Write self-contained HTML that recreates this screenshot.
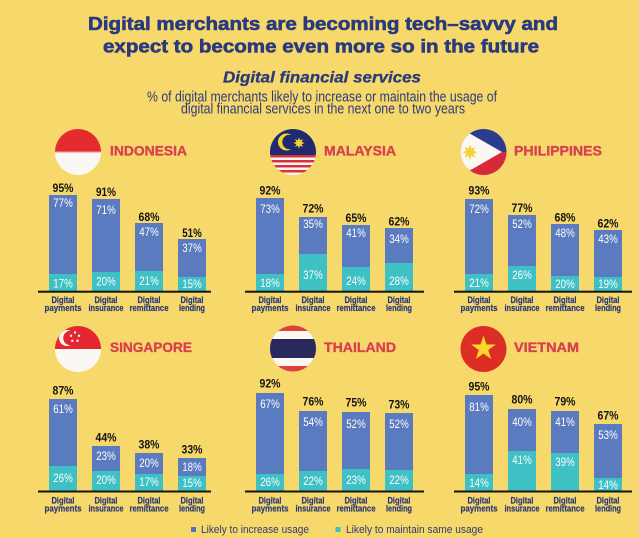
<!DOCTYPE html>
<html>
<head>
<meta charset="utf-8">
<style>
html,body{margin:0;padding:0;background:#F7D86A;}
svg{display:block;}
svg text{font-family:"Liberation Sans", sans-serif;}
.ttl{font-weight:bold;font-size:18.5px;fill:#2A3A7E;stroke:#2A3A7E;stroke-width:0.6px;}
.sub{font-weight:bold;font-style:italic;font-size:15.5px;fill:#2A3A7E;stroke:#2A3A7E;stroke-width:0.3px;}
.desc{font-size:14.5px;fill:#2D3B7C;}
.cn{font-weight:bold;font-size:14px;fill:#D9404F;stroke:#D9404F;stroke-width:0.35px;}
.tt{font-weight:bold;font-size:12px;fill:#141414;text-anchor:middle;}
.w{font-size:11.5px;fill:#FFFFFF;text-anchor:middle;}
.c{font-weight:bold;font-size:9px;fill:#2B3A7A;text-anchor:middle;stroke:#2B3A7A;stroke-width:0.2px;}
.lg{font-size:11px;fill:#2D3B7C;}
.b{fill:#5A7BBF;}
.g{fill:#3EC0C5;}
.ax{fill:#151515;}
</style>
</head>
<body>
<svg width="639" height="538" viewBox="0 0 639 538" xmlns="http://www.w3.org/2000/svg">
<rect x="0" y="0" width="639" height="538" fill="#F7D86A"/>

<!-- Titles -->
<text class="ttl" x="88" y="30" textLength="470" lengthAdjust="spacingAndGlyphs">Digital merchants are becoming tech–savvy and</text>
<text class="ttl" x="103" y="52.3" textLength="436" lengthAdjust="spacingAndGlyphs">expect to become even more so in the future</text>
<text class="sub" x="223" y="82.3" textLength="198" lengthAdjust="spacingAndGlyphs">Digital financial services</text>
<text class="desc" x="147" y="101.7" textLength="350" lengthAdjust="spacingAndGlyphs">% of digital merchants likely to increase or maintain the usage of</text>
<text class="desc" x="181" y="113.5" textLength="284" lengthAdjust="spacingAndGlyphs">digital financial services in the next one to two years</text>

<defs>
<clipPath id="fA"><circle cx="78" cy="152" r="23"/></clipPath>
<clipPath id="fB"><circle cx="293" cy="152" r="23"/></clipPath>
<clipPath id="fC"><circle cx="483.5" cy="152" r="23"/></clipPath>
<clipPath id="fD"><circle cx="78" cy="349" r="23"/></clipPath>
<clipPath id="fE"><circle cx="293" cy="348.5" r="23"/></clipPath>
</defs>

<!-- Indonesia flag -->
<g clip-path="url(#fA)">
<rect x="55" y="129" width="46" height="23" fill="#E42B2E"/>
<rect x="55" y="152" width="46" height="23" fill="#FBF8F3"/>
<rect x="55" y="151.5" width="46" height="1.2" fill="#F2A7A2"/>
</g>
<!-- Malaysia flag -->
<g clip-path="url(#fB)">
<rect x="270" y="129" width="46" height="26" fill="#1F2B6E"/>
<rect x="270" y="155" width="46" height="2.5" fill="#D8313B"/>
<rect x="270" y="157.5" width="46" height="2.5" fill="#FBF8F3"/>
<rect x="270" y="160" width="46" height="2.5" fill="#D8313B"/>
<rect x="270" y="162.5" width="46" height="2.5" fill="#FBF8F3"/>
<rect x="270" y="165" width="46" height="2.5" fill="#D8313B"/>
<rect x="270" y="167.5" width="46" height="2.5" fill="#FBF8F3"/>
<rect x="270" y="170" width="46" height="2.5" fill="#D8313B"/>
<rect x="270" y="172.5" width="46" height="2.5" fill="#FBF8F3"/>
<circle cx="286.5" cy="142" r="8.5" fill="#F6D22E"/>
<circle cx="289.5" cy="142" r="7.2" fill="#1F2B6E"/>
<polygon transform="translate(299,143) scale(0.95)" fill="#F6D22E" points="6,0 2.77,1.15 4.24,4.24 1.15,2.77 0,6 -1.15,2.77 -4.24,4.24 -2.77,1.15 -6,0 -2.77,-1.15 -4.24,-4.24 -1.15,-2.77 0,-6 1.15,-2.77 4.24,-4.24 2.77,-1.15"/>
</g>
<!-- Philippines flag -->
<g clip-path="url(#fC)">
<rect x="460" y="129" width="47" height="23" fill="#2B3D8F"/>
<rect x="460" y="152" width="47" height="23" fill="#D8283B"/>
<polygon points="455,125 502,152 455,179" fill="#FBF8F3"/>
<polygon transform="translate(470,152.3) scale(1.3)" fill="#F4D23A" points="6,0 2.77,1.15 4.24,4.24 1.15,2.77 0,6 -1.15,2.77 -4.24,4.24 -2.77,1.15 -6,0 -2.77,-1.15 -4.24,-4.24 -1.15,-2.77 0,-6 1.15,-2.77 4.24,-4.24 2.77,-1.15"/>
</g>
<!-- Singapore flag -->
<g clip-path="url(#fD)">
<rect x="55" y="326" width="46" height="23" fill="#E3262F"/>
<rect x="55" y="349" width="46" height="23" fill="#FBF8F3"/>
<circle cx="67" cy="338" r="8" fill="#FBF8F3"/>
<circle cx="70.5" cy="338" r="7.3" fill="#E3262F"/>
<circle cx="75" cy="332.5" r="1.2" fill="#FBF8F3"/>
<circle cx="79" cy="335.8" r="1.2" fill="#FBF8F3"/>
<circle cx="77.5" cy="340.8" r="1.2" fill="#FBF8F3"/>
<circle cx="72.3" cy="340.8" r="1.2" fill="#FBF8F3"/>
<circle cx="71" cy="335.8" r="1.2" fill="#FBF8F3"/>
</g>
<!-- Thailand flag -->
<g clip-path="url(#fE)">
<rect x="270" y="325" width="46" height="47" fill="#E0403A"/>
<rect x="270" y="331" width="46" height="35" fill="#FBF8F3"/>
<rect x="270" y="339" width="46" height="19" fill="#2A295C"/>
</g>
<!-- Vietnam flag -->
<circle cx="483.5" cy="349" r="23" fill="#DD2E26"/>
<polygon fill="#F8D92A" points="483.5,335.5 486.44,344.46 495.86,344.48 488.26,350.05 491.14,359.02 483.5,353.5 475.86,359.02 478.74,350.05 471.14,344.48 480.56,344.46"/>

<!-- Country names -->
<text class="cn" x="110" y="155.5" textLength="77" lengthAdjust="spacingAndGlyphs">INDONESIA</text>
<text class="cn" x="324" y="155.5" textLength="72" lengthAdjust="spacingAndGlyphs">MALAYSIA</text>
<text class="cn" x="514" y="155.5" textLength="88" lengthAdjust="spacingAndGlyphs">PHILIPPINES</text>
<text class="cn" x="110" y="352" textLength="82" lengthAdjust="spacingAndGlyphs">SINGAPORE</text>
<text class="cn" x="324" y="352" textLength="72" lengthAdjust="spacingAndGlyphs">THAILAND</text>
<text class="cn" x="514" y="352" textLength="65" lengthAdjust="spacingAndGlyphs">VIETNAM</text>

<!-- ===== Indonesia ===== -->
<rect class="b" x="49" y="195" width="28" height="79"/><rect class="g" x="49" y="274" width="28" height="17"/>
<rect class="b" x="92" y="199" width="28" height="73"/><rect class="g" x="92" y="272" width="28" height="19"/>
<rect class="b" x="135" y="223" width="28" height="48"/><rect class="g" x="135" y="271" width="28" height="20"/>
<rect class="b" x="178" y="239" width="28" height="38"/><rect class="g" x="178" y="277" width="28" height="14"/>
<text class="tt" x="63" y="192" textLength="21" lengthAdjust="spacingAndGlyphs">95%</text>
<text class="w" x="63" y="206.8" textLength="19.5" lengthAdjust="spacingAndGlyphs">77%</text>
<text class="w" x="63" y="287.4" textLength="19.5" lengthAdjust="spacingAndGlyphs">17%</text>
<text class="tt" x="106" y="196" textLength="20" lengthAdjust="spacingAndGlyphs">91%</text>
<text class="w" x="106" y="214.1" textLength="19.5" lengthAdjust="spacingAndGlyphs">71%</text>
<text class="w" x="106" y="285.4" textLength="19.5" lengthAdjust="spacingAndGlyphs">20%</text>
<text class="tt" x="149" y="221" textLength="21" lengthAdjust="spacingAndGlyphs">68%</text>
<text class="w" x="149" y="235.8" textLength="19.5" lengthAdjust="spacingAndGlyphs">47%</text>
<text class="w" x="149" y="285.1" textLength="19.5" lengthAdjust="spacingAndGlyphs">21%</text>
<text class="tt" x="192" y="237" textLength="19.5" lengthAdjust="spacingAndGlyphs">51%</text>
<text class="w" x="192" y="251.8" textLength="19.5" lengthAdjust="spacingAndGlyphs">37%</text>
<text class="w" x="192" y="288.1" textLength="19.5" lengthAdjust="spacingAndGlyphs">15%</text>
<rect class="ax" x="38" y="290.7" width="173" height="2"/>

<!-- ===== Malaysia ===== -->
<rect class="b" x="256" y="198" width="28" height="76"/><rect class="g" x="256" y="274" width="28" height="17"/>
<rect class="b" x="299" y="217" width="28" height="37"/><rect class="g" x="299" y="254" width="28" height="37"/>
<rect class="b" x="342" y="225" width="28" height="42"/><rect class="g" x="342" y="267" width="28" height="24"/>
<rect class="b" x="385" y="228" width="28" height="35"/><rect class="g" x="385" y="263" width="28" height="28"/>
<text class="tt" x="270" y="194.6" textLength="21" lengthAdjust="spacingAndGlyphs">92%</text>
<text class="w" x="270" y="213.1" textLength="19.5" lengthAdjust="spacingAndGlyphs">73%</text>
<text class="w" x="270" y="287.1" textLength="19.5" lengthAdjust="spacingAndGlyphs">18%</text>
<text class="tt" x="313" y="212.6" textLength="21" lengthAdjust="spacingAndGlyphs">72%</text>
<text class="w" x="313" y="227.8" textLength="19.5" lengthAdjust="spacingAndGlyphs">35%</text>
<text class="w" x="313" y="279.1" textLength="19.5" lengthAdjust="spacingAndGlyphs">37%</text>
<text class="tt" x="356" y="222" textLength="21" lengthAdjust="spacingAndGlyphs">65%</text>
<text class="w" x="356" y="237.1" textLength="19.5" lengthAdjust="spacingAndGlyphs">41%</text>
<text class="w" x="356" y="284.8" textLength="19.5" lengthAdjust="spacingAndGlyphs">24%</text>
<text class="tt" x="399" y="225.3" textLength="21" lengthAdjust="spacingAndGlyphs">62%</text>
<text class="w" x="399" y="243.1" textLength="19.5" lengthAdjust="spacingAndGlyphs">34%</text>
<text class="w" x="399" y="285.1" textLength="19.5" lengthAdjust="spacingAndGlyphs">28%</text>
<rect class="ax" x="245" y="290.7" width="179" height="2"/>

<!-- ===== Philippines ===== -->
<rect class="b" x="465" y="199" width="28" height="75"/><rect class="g" x="465" y="274" width="28" height="17"/>
<rect class="b" x="508" y="215" width="28" height="51"/><rect class="g" x="508" y="266" width="28" height="25"/>
<rect class="b" x="551" y="224" width="28" height="52"/><rect class="g" x="551" y="276" width="28" height="15"/>
<rect class="b" x="594" y="230" width="28" height="47"/><rect class="g" x="594" y="277" width="28" height="14"/>
<text class="tt" x="479" y="194.3" textLength="21" lengthAdjust="spacingAndGlyphs">93%</text>
<text class="w" x="479" y="213.1" textLength="19.5" lengthAdjust="spacingAndGlyphs">72%</text>
<text class="w" x="479" y="287.1" textLength="19.5" lengthAdjust="spacingAndGlyphs">21%</text>
<text class="tt" x="522" y="212" textLength="21" lengthAdjust="spacingAndGlyphs">77%</text>
<text class="w" x="522" y="227.8" textLength="19.5" lengthAdjust="spacingAndGlyphs">52%</text>
<text class="w" x="522" y="279.1" textLength="19.5" lengthAdjust="spacingAndGlyphs">26%</text>
<text class="tt" x="565" y="221.6" textLength="21" lengthAdjust="spacingAndGlyphs">68%</text>
<text class="w" x="565" y="237.1" textLength="19.5" lengthAdjust="spacingAndGlyphs">48%</text>
<text class="w" x="565" y="288.1" textLength="19.5" lengthAdjust="spacingAndGlyphs">20%</text>
<text class="tt" x="608" y="227.6" textLength="21" lengthAdjust="spacingAndGlyphs">62%</text>
<text class="w" x="608" y="243.1" textLength="19.5" lengthAdjust="spacingAndGlyphs">43%</text>
<text class="w" x="608" y="288.1" textLength="19.5" lengthAdjust="spacingAndGlyphs">19%</text>
<rect class="ax" x="454" y="290.7" width="178" height="2"/>

<!-- ===== Singapore ===== -->
<rect class="b" x="49" y="399" width="28" height="67"/><rect class="g" x="49" y="466" width="28" height="25"/>
<rect class="b" x="92" y="446" width="28" height="25"/><rect class="g" x="92" y="471" width="28" height="20"/>
<rect class="b" x="135" y="453" width="28" height="21"/><rect class="g" x="135" y="474" width="28" height="17"/>
<rect class="b" x="178" y="458" width="28" height="18"/><rect class="g" x="178" y="476" width="28" height="15"/>
<text class="tt" x="63" y="394.6" textLength="21" lengthAdjust="spacingAndGlyphs">87%</text>
<text class="w" x="63" y="413.1" textLength="19.5" lengthAdjust="spacingAndGlyphs">61%</text>
<text class="w" x="63" y="482.1" textLength="19.5" lengthAdjust="spacingAndGlyphs">26%</text>
<text class="tt" x="106" y="441.6" textLength="21" lengthAdjust="spacingAndGlyphs">44%</text>
<text class="w" x="106" y="459.8" textLength="19.5" lengthAdjust="spacingAndGlyphs">23%</text>
<text class="w" x="106" y="484.1" textLength="19.5" lengthAdjust="spacingAndGlyphs">20%</text>
<text class="tt" x="149" y="448.6" textLength="21" lengthAdjust="spacingAndGlyphs">38%</text>
<text class="w" x="149" y="466.8" textLength="19.5" lengthAdjust="spacingAndGlyphs">20%</text>
<text class="w" x="149" y="485.8" textLength="19.5" lengthAdjust="spacingAndGlyphs">17%</text>
<text class="tt" x="192" y="453.3" textLength="21" lengthAdjust="spacingAndGlyphs">33%</text>
<text class="w" x="192" y="471.1" textLength="19.5" lengthAdjust="spacingAndGlyphs">18%</text>
<text class="w" x="192" y="487.1" textLength="19.5" lengthAdjust="spacingAndGlyphs">15%</text>
<rect class="ax" x="38" y="490.5" width="173" height="2"/>

<!-- ===== Thailand ===== -->
<rect class="b" x="256" y="393" width="28" height="81"/><rect class="g" x="256" y="474" width="28" height="17"/>
<rect class="b" x="299" y="411" width="28" height="60"/><rect class="g" x="299" y="471" width="28" height="20"/>
<rect class="b" x="342" y="412" width="28" height="57"/><rect class="g" x="342" y="469" width="28" height="22"/>
<rect class="b" x="385" y="413" width="28" height="57"/><rect class="g" x="385" y="470" width="28" height="21"/>
<text class="tt" x="270" y="387.6" textLength="21" lengthAdjust="spacingAndGlyphs">92%</text>
<text class="w" x="270" y="408.1" textLength="19.5" lengthAdjust="spacingAndGlyphs">67%</text>
<text class="w" x="270" y="486.1" textLength="19.5" lengthAdjust="spacingAndGlyphs">26%</text>
<text class="tt" x="313" y="405.3" textLength="21" lengthAdjust="spacingAndGlyphs">76%</text>
<text class="w" x="313" y="426.1" textLength="19.5" lengthAdjust="spacingAndGlyphs">54%</text>
<text class="w" x="313" y="485.1" textLength="19.5" lengthAdjust="spacingAndGlyphs">22%</text>
<text class="tt" x="356" y="406.6" textLength="21" lengthAdjust="spacingAndGlyphs">75%</text>
<text class="w" x="356" y="427.8" textLength="19.5" lengthAdjust="spacingAndGlyphs">52%</text>
<text class="w" x="356" y="484.1" textLength="19.5" lengthAdjust="spacingAndGlyphs">23%</text>
<text class="tt" x="399" y="408.6" textLength="21" lengthAdjust="spacingAndGlyphs">73%</text>
<text class="w" x="399" y="427.8" textLength="19.5" lengthAdjust="spacingAndGlyphs">52%</text>
<text class="w" x="399" y="484.1" textLength="19.5" lengthAdjust="spacingAndGlyphs">22%</text>
<rect class="ax" x="245" y="490.5" width="179" height="2"/>

<!-- ===== Vietnam ===== -->
<rect class="b" x="465" y="395" width="28" height="79"/><rect class="g" x="465" y="474" width="28" height="17"/>
<rect class="b" x="508" y="409" width="28" height="42"/><rect class="g" x="508" y="451" width="28" height="40"/>
<rect class="b" x="551" y="411" width="28" height="42"/><rect class="g" x="551" y="453" width="28" height="38"/>
<rect class="b" x="594" y="424" width="28" height="54"/><rect class="g" x="594" y="478" width="28" height="13"/>
<text class="tt" x="479" y="390.3" textLength="21" lengthAdjust="spacingAndGlyphs">95%</text>
<text class="w" x="479" y="410.8" textLength="19.5" lengthAdjust="spacingAndGlyphs">81%</text>
<text class="w" x="479" y="487.1" textLength="19.5" lengthAdjust="spacingAndGlyphs">14%</text>
<text class="tt" x="522" y="403.6" textLength="21" lengthAdjust="spacingAndGlyphs">80%</text>
<text class="w" x="522" y="425.8" textLength="19.5" lengthAdjust="spacingAndGlyphs">40%</text>
<text class="w" x="522" y="464.1" textLength="19.5" lengthAdjust="spacingAndGlyphs">41%</text>
<text class="tt" x="565" y="405.6" textLength="21" lengthAdjust="spacingAndGlyphs">79%</text>
<text class="w" x="565" y="425.8" textLength="19.5" lengthAdjust="spacingAndGlyphs">41%</text>
<text class="w" x="565" y="465.8" textLength="19.5" lengthAdjust="spacingAndGlyphs">39%</text>
<text class="tt" x="608" y="419.3" textLength="21" lengthAdjust="spacingAndGlyphs">67%</text>
<text class="w" x="608" y="439.1" textLength="19.5" lengthAdjust="spacingAndGlyphs">53%</text>
<text class="w" x="608" y="489.1" textLength="19.5" lengthAdjust="spacingAndGlyphs">14%</text>
<rect class="ax" x="454" y="490.5" width="178" height="2"/>

<!-- Category labels top row -->
<text class="c" x="63" y="303" textLength="23" lengthAdjust="spacingAndGlyphs">Digital</text>
<text class="c" x="63" y="311" textLength="37" lengthAdjust="spacingAndGlyphs">payments</text>
<text class="c" x="106" y="303" textLength="23" lengthAdjust="spacingAndGlyphs">Digital</text>
<text class="c" x="106" y="311" textLength="35" lengthAdjust="spacingAndGlyphs">insurance</text>
<text class="c" x="149" y="303" textLength="23" lengthAdjust="spacingAndGlyphs">Digital</text>
<text class="c" x="149" y="311" textLength="39" lengthAdjust="spacingAndGlyphs">remittance</text>
<text class="c" x="192" y="303" textLength="23" lengthAdjust="spacingAndGlyphs">Digital</text>
<text class="c" x="192" y="311" textLength="26" lengthAdjust="spacingAndGlyphs">lending</text>

<text class="c" x="270" y="303" textLength="23" lengthAdjust="spacingAndGlyphs">Digital</text>
<text class="c" x="270" y="311" textLength="37" lengthAdjust="spacingAndGlyphs">payments</text>
<text class="c" x="313" y="303" textLength="23" lengthAdjust="spacingAndGlyphs">Digital</text>
<text class="c" x="313" y="311" textLength="35" lengthAdjust="spacingAndGlyphs">insurance</text>
<text class="c" x="356" y="303" textLength="23" lengthAdjust="spacingAndGlyphs">Digital</text>
<text class="c" x="356" y="311" textLength="39" lengthAdjust="spacingAndGlyphs">remittance</text>
<text class="c" x="399" y="303" textLength="23" lengthAdjust="spacingAndGlyphs">Digital</text>
<text class="c" x="399" y="311" textLength="26" lengthAdjust="spacingAndGlyphs">lending</text>

<text class="c" x="479" y="303" textLength="23" lengthAdjust="spacingAndGlyphs">Digital</text>
<text class="c" x="479" y="311" textLength="37" lengthAdjust="spacingAndGlyphs">payments</text>
<text class="c" x="522" y="303" textLength="23" lengthAdjust="spacingAndGlyphs">Digital</text>
<text class="c" x="522" y="311" textLength="35" lengthAdjust="spacingAndGlyphs">insurance</text>
<text class="c" x="565" y="303" textLength="23" lengthAdjust="spacingAndGlyphs">Digital</text>
<text class="c" x="565" y="311" textLength="39" lengthAdjust="spacingAndGlyphs">remittance</text>
<text class="c" x="608" y="303" textLength="23" lengthAdjust="spacingAndGlyphs">Digital</text>
<text class="c" x="608" y="311" textLength="26" lengthAdjust="spacingAndGlyphs">lending</text>

<!-- Category labels bottom row -->
<text class="c" x="63" y="503.3" textLength="23" lengthAdjust="spacingAndGlyphs">Digital</text>
<text class="c" x="63" y="511.7" textLength="37" lengthAdjust="spacingAndGlyphs">payments</text>
<text class="c" x="106" y="503.3" textLength="23" lengthAdjust="spacingAndGlyphs">Digital</text>
<text class="c" x="106" y="511.7" textLength="35" lengthAdjust="spacingAndGlyphs">insurance</text>
<text class="c" x="149" y="503.3" textLength="23" lengthAdjust="spacingAndGlyphs">Digital</text>
<text class="c" x="149" y="511.7" textLength="39" lengthAdjust="spacingAndGlyphs">remittance</text>
<text class="c" x="192" y="503.3" textLength="23" lengthAdjust="spacingAndGlyphs">Digital</text>
<text class="c" x="192" y="511.7" textLength="26" lengthAdjust="spacingAndGlyphs">lending</text>

<text class="c" x="270" y="503.3" textLength="23" lengthAdjust="spacingAndGlyphs">Digital</text>
<text class="c" x="270" y="511.7" textLength="37" lengthAdjust="spacingAndGlyphs">payments</text>
<text class="c" x="313" y="503.3" textLength="23" lengthAdjust="spacingAndGlyphs">Digital</text>
<text class="c" x="313" y="511.7" textLength="35" lengthAdjust="spacingAndGlyphs">insurance</text>
<text class="c" x="356" y="503.3" textLength="23" lengthAdjust="spacingAndGlyphs">Digital</text>
<text class="c" x="356" y="511.7" textLength="39" lengthAdjust="spacingAndGlyphs">remittance</text>
<text class="c" x="399" y="503.3" textLength="23" lengthAdjust="spacingAndGlyphs">Digital</text>
<text class="c" x="399" y="511.7" textLength="26" lengthAdjust="spacingAndGlyphs">lending</text>

<text class="c" x="479" y="503.3" textLength="23" lengthAdjust="spacingAndGlyphs">Digital</text>
<text class="c" x="479" y="511.7" textLength="37" lengthAdjust="spacingAndGlyphs">payments</text>
<text class="c" x="522" y="503.3" textLength="23" lengthAdjust="spacingAndGlyphs">Digital</text>
<text class="c" x="522" y="511.7" textLength="35" lengthAdjust="spacingAndGlyphs">insurance</text>
<text class="c" x="565" y="503.3" textLength="23" lengthAdjust="spacingAndGlyphs">Digital</text>
<text class="c" x="565" y="511.7" textLength="39" lengthAdjust="spacingAndGlyphs">remittance</text>
<text class="c" x="608" y="503.3" textLength="23" lengthAdjust="spacingAndGlyphs">Digital</text>
<text class="c" x="608" y="511.7" textLength="26" lengthAdjust="spacingAndGlyphs">lending</text>

<!-- Legend -->
<rect x="191" y="527" width="5" height="5" fill="#4F75BB"/>
<text class="lg" x="201" y="533" textLength="108" lengthAdjust="spacingAndGlyphs">Likely to increase usage</text>
<rect x="335.5" y="527" width="5" height="5" fill="#3DC0C6"/>
<text class="lg" x="346" y="533" textLength="137" lengthAdjust="spacingAndGlyphs">Likely to maintain same usage</text>
</svg>
</body>
</html>
